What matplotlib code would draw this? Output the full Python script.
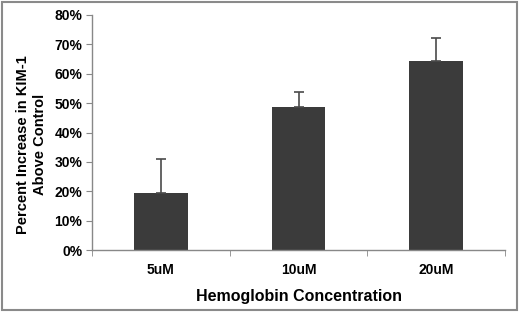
import matplotlib.pyplot as plt
import matplotlib.patches as mpatches
import numpy as np

# data
categories = ["5uM", "10uM", "20uM"]
values = [19.3, 48.8, 64.5]
errors = [11.7, 5.0, 7.8]

plt.rcParams['font.family'] = ['Liberation Sans', 'DejaVu Sans']
plt.rcParams['font.weight'] = 'bold'

fig = plt.figure(figsize=(5.2, 3.12), dpi=100)
ax = fig.add_axes([92 / 520, 62 / 312, 413 / 520, 235 / 312])

x = np.arange(len(categories))
ax.bar(x, values, width=0.39, color='#3b3b3b', zorder=2)
ax.errorbar(x, values, yerr=[np.zeros(len(errors)), errors], fmt='none',
            ecolor='#4a4a4a', elinewidth=1.2, capsize=3.5, capthick=1.2, zorder=3)

ax.set_xlim(-0.5, len(categories) - 0.5)
ax.set_ylim(0, 80)
ax.set_yticks(np.arange(0, 81, 10))
ax.set_yticklabels([f"{v}%" for v in range(0, 81, 10)], fontsize=10, fontweight='bold')

# category labels between boundary ticks
ax.set_xticks(x)
ax.set_xticklabels(categories, fontsize=10, fontweight='bold')
ax.tick_params(axis='x', length=0, pad=9)
ax.set_xticks(np.arange(-0.5, len(categories), 1), minor=True)
ax.tick_params(axis='x', which='minor', length=4, color='#888888', direction='out')
ax.tick_params(axis='y', length=4, color='#888888', direction='out', pad=3)

for side in ['top', 'right']:
    ax.spines[side].set_visible(False)
for side in ['left', 'bottom']:
    ax.spines[side].set_color('#888888')
    ax.spines[side].set_linewidth(1.0)

ax.set_ylabel("Percent Increase in KIM-1\nAbove Control", fontsize=10.5,
              fontweight='bold', linespacing=1.25)
ax.yaxis.set_label_coords(-0.11, 0.45)
ax.set_xlabel("Hemoglobin Concentration", fontsize=11.5, fontweight='bold', labelpad=9)

# gray frame around the whole picture
fig.patches.append(mpatches.Rectangle((0.003, 0.005), 0.992, 0.99, transform=fig.transFigure,
                                      fill=False, edgecolor='#8a8a8a', linewidth=1.5))

fig.savefig("out.png", dpi=100)
